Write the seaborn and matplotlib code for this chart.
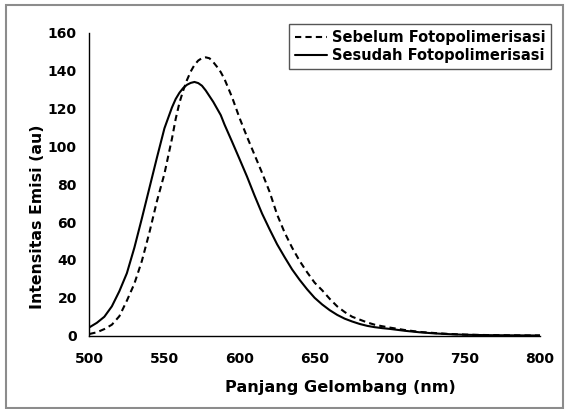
import numpy as np
import pandas as pd
import matplotlib
matplotlib.use("Agg")
import matplotlib.pyplot as plt
from matplotlib.patches import Rectangle
import seaborn as sns

# wavelength (nm)
panjang = [500, 505, 510, 515, 520, 525, 530, 535, 540, 545, 550, 555,
           557.5, 560, 562.5, 565, 567.5, 570, 572.5, 575, 577.5, 580, 582.5, 585, 587.5, 590,
           595, 600, 605, 610, 615, 620, 625, 630, 635, 640, 645, 650, 655, 660, 665,
           670, 675, 680, 685, 690, 695, 700, 710, 720, 730, 740, 750, 760, 770, 780,
           790, 800]

# emission before photopolymerisation (dashed)
sebelum = [0.9, 1.8, 3.5, 5.8, 10.3, 18.5, 27.5, 39.5, 54.5, 71, 85.5, 104,
           114.5, 123, 129.5, 135, 139.5, 143, 145.3, 146.6, 147, 146.5, 144.5, 142, 139.2, 135.5,
           126, 115, 105, 95.5, 86, 76, 64, 54.5, 46.5, 39.5, 33.5, 28, 24, 19.5, 15.5,
           12.5, 10, 8.5, 7, 5.8, 5.0, 4.3, 3.0, 2.0, 1.4, 0.9, 0.6, 0.4, 0.3, 0.2,
           0.15, 0.1]

# emission after photopolymerisation (solid)
sesudah = [4.4, 6.8, 10, 15.5, 23.5, 33, 46.5, 62, 78, 94, 109.5, 120.5,
           125, 128.3, 130.8, 132.5, 133.5, 134, 133.4, 132, 129.5, 126.5, 123.5, 120, 116.5, 111.5,
           102.5, 93.3, 84, 74, 64.5, 56.2, 48.3, 41.5, 35, 29.5, 24.5, 20, 16.5, 13.5, 11,
           9, 7.5, 6.2, 5.2, 4.5, 4.0, 3.6, 2.6, 1.8, 1.2, 0.8, 0.5, 0.35, 0.25, 0.2,
           0.15, 0.1]

label_sebelum = "Sebelum Fotopolimerisasi"
label_sesudah = "Sesudah Fotopolimerisasi"

df = pd.DataFrame({
    "nm": panjang * 2,
    "intensitas": sebelum + sesudah,
    "seri": [label_sebelum] * len(panjang) + [label_sesudah] * len(panjang),
})

sns.set_style("white")
plt.rcParams["font.family"] = ["DejaVu Sans"]
plt.rcParams["font.weight"] = "bold"
plt.rcParams["text.color"] = "black"
plt.rcParams["axes.labelcolor"] = "black"
plt.rcParams["xtick.color"] = "black"
plt.rcParams["ytick.color"] = "black"

fig = plt.figure(figsize=(5.66, 4.09), dpi=100)
ax = fig.add_axes([0.1578, 0.1792, 0.954 - 0.1578, 0.920 - 0.1792])

sns.lineplot(data=df, x="nm", y="intensitas", hue="seri", style="seri",
             palette=["black", "black"],
             dashes={label_sebelum: (3, 2), label_sesudah: ""},
             linewidth=1.5, ax=ax, legend=False)

ax.set_xlim(500, 800)
ax.set_ylim(0, 160)
ax.set_xticks([500, 550, 600, 650, 700, 750, 800])
ax.set_yticks([0, 20, 40, 60, 80, 100, 120, 140, 160])
ax.tick_params(axis="both", direction="out", length=3, width=1, colors="black",
               labelsize=10)
ax.tick_params(axis="x", pad=9)
ax.tick_params(axis="y", pad=6)
for t in ax.get_xticklabels() + ax.get_yticklabels():
    t.set_fontweight("bold")

for side in ["top", "right"]:
    ax.spines[side].set_visible(False)
for side in ["left", "bottom"]:
    ax.spines[side].set_color("black")
    ax.spines[side].set_linewidth(1)

ax.set_xlabel("Panjang Gelombang (nm)", fontsize=11.6, fontweight="bold",
              va="center", color="black")
ax.set_ylabel("Intensitas Emisi (au)", fontsize=11.3, fontweight="bold",
              va="center", color="black")
ax.xaxis.set_label_coords(0.556, -0.171)
ax.yaxis.set_label_coords(-0.114, 0.392)

handles = [
    plt.Line2D([], [], color="black", linewidth=1.5, dashes=(3, 2)),
    plt.Line2D([], [], color="black", linewidth=1.5),
]
leg = fig.legend(handles, [label_sebelum, label_sesudah], loc="upper right",
                 bbox_to_anchor=(551 / 566, 1 - 24 / 409), fontsize=10.5,
                 frameon=True, fancybox=False, framealpha=1, edgecolor="#555555",
                 handlelength=2.2, handletextpad=0.3, borderpad=0.4,
                 labelspacing=0.25, borderaxespad=0)
leg.get_frame().set_linewidth(1)
for t in leg.get_texts():
    t.set_fontweight("bold")
    t.set_color("black")

# grey frame around the chart
fig.patches.append(Rectangle((6 / 566, 1.5 / 409), 557 / 566, 403 / 409,
                             transform=fig.transFigure, fill=False,
                             edgecolor="#8c8c8c", linewidth=1.5))

fig.savefig("out.png", dpi=100)
